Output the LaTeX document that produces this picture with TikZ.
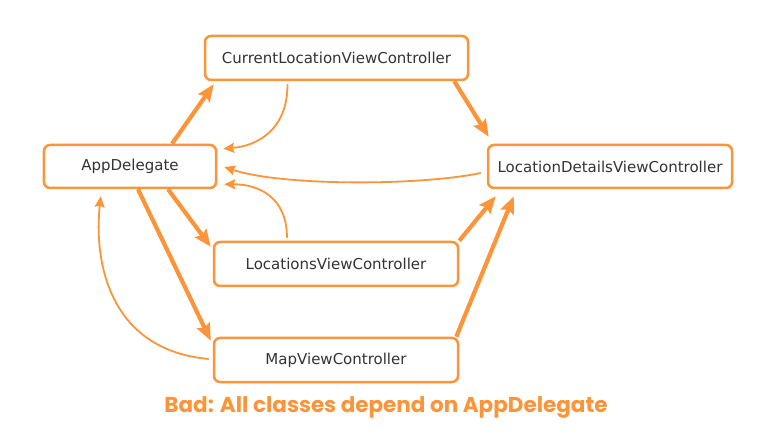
\documentclass[tikz,border=0pt]{standalone}
\usepackage{fontspec}
\setmainfont{DejaVu Sans}
\newfontfamily\titlefont{Poppins}
\usetikzlibrary{arrows.meta,calc}
\definecolor{orng}{RGB}{252,148,58}
\definecolor{txt}{RGB}{51,51,51}
\begin{document}
\begin{tikzpicture}[x=1bp,y=-1bp,
  box/.style={draw=orng,line width=2.5bp,rounded corners=6bp,fill=white,inner sep=0pt,
    text=txt,font=\fontsize{15bp}{17bp}\selectfont},
  heavy/.style={draw=orng,line width=4.2bp,-{Stealth[length=17bp,width=14bp,inset=2.5bp]}},
  light/.style={draw=orng,line width=1.8bp,-{Stealth[length=11bp,width=10bp,inset=1.5bp]}}]
\useasboundingbox (0,0) rectangle (766,434);
\node[box,minimum width=263bp,minimum height=44bp] (cl) at (336.5,58) {CurrentLocationViewController};
\node[box,minimum width=172bp,minimum height=43bp] (ad) at (130,166.5) {AppDelegate};
\node[box,minimum width=244bp,minimum height=43bp] (ld) at (610,166.5) {LocationDetailsViewController};
\node[box,minimum width=244bp,minimum height=44bp] (lv) at (336,264) {LocationsViewController};
\node[box,minimum width=244bp,minimum height=44bp] (mv) at (336,360) {MapViewController};
% heavy arrows
\draw[heavy] ($(ad.north)+(42,0)$) -- ($(cl.south west)+(10,3)$);
\draw[heavy] ($(cl.south east)+(-15,0)$) -- ($(ld.north west)+(2,-7)$);
\draw[heavy] ($(ad.south)+(38,0)$) -- ($(lv.north west)+(-2,6)$);
\draw[heavy] ($(ad.south)+(8,0)$) -- ($(mv.north west)+(-2,4)$);
\draw[heavy] (lv.north east) -- ($(ld.south west)+(9,7)$);
\draw[heavy] ($(mv.north east)+(-3,0)$) -- ($(ld.south west)+(27,7)$);
% light arrows
\draw[light] ($(cl.south)+(-49,3)$) .. controls +(0,45) and +(35,-3) .. ($(ad.north east)+(6,5)$);
\draw[light] ($(ld.west)+(-6,6.5)$) .. controls +(-62,13) and +(57,19) .. ($(ad.east)+(7,0.5)$);
\draw[light] ($(lv.north)+(-49,-3)$) .. controls +(0,-40) and +(35,0) .. ($(ad.south east)+(7,-5)$);
\draw[light] ($(mv.west)+(-4,-1)$) .. controls +(-100,-9) and +(-7,65) .. ($(ad.south west)+(58,7)$);
\node[text=orng,font=\titlefont\bfseries\fontsize{21.5bp}{24bp}\selectfont] (title) at (386,408) {Bad: All classes depend on AppDelegate};
\end{tikzpicture}
\end{document}
